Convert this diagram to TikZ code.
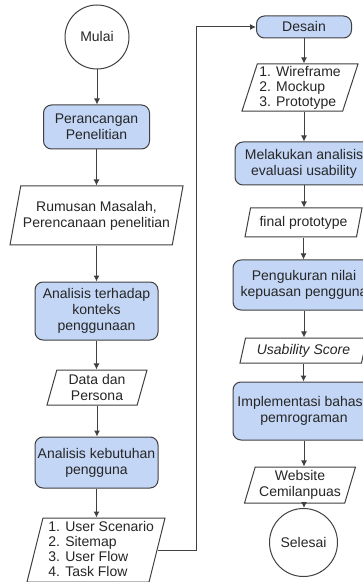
\documentclass[tikz,border=0pt]{standalone}
\usepackage{fontspec}
\setmainfont{Liberation Sans}
\usetikzlibrary{shapes.geometric,arrows.meta}
\definecolor{boxblue}{HTML}{C3D6F6}

\begin{document}
\begin{tikzpicture}[x=0.5pt,y=-0.5pt,
  font=\fontsize{7}{8}\selectfont,
  every node/.style={text=black!85},
  daftar/.style={align=left,font=\fontsize{7}{7.5}\selectfont},
  proses/.style={draw=black!75,fill=boxblue,rounded corners=4pt,align=center,inner sep=1pt,line width=0.5pt},
  data/.style={draw=black!75,fill=white,trapezium,trapezium left angle=72,trapezium right angle=108,trapezium stretches body,align=center,inner sep=1pt,line width=0.5pt},
  terminal/.style={draw=black!75,fill=white,circle,inner sep=1pt,line width=0.5pt},
  alur/.style={draw=black!75,line width=0.5pt,-{Latex[length=3pt,width=3pt]}}]
\useasboundingbox (0,0) rectangle (363,582);

% kolom kiri
\node[terminal,minimum size=32pt] (mulai) at (97,37) {Mulai};
\node[proses,minimum width=53pt,minimum height=22pt] (rancang) at (96.5,127) {Perancangan\\Penelitian};
\node[data,minimum width=86.5pt,minimum height=29.5pt] (rumusan) at (96.5,215.5) {Rumusan Masalah,\\Perencanaan penelitian};
\node[proses,minimum width=61.5pt,minimum height=29pt] (konteks) at (96.5,311) {Analisis terhadap\\konteks\\penggunaan};
\node[data,minimum width=50pt,minimum height=17.5pt] (persona) at (97,387.5) {Data dan\\Persona};
\node[proses,minimum width=61.5pt,minimum height=25.5pt] (kebutuhan) at (96.5,462.5) {Analisis kebutuhan\\pengguna};
\node[data,trapezium left angle=76,trapezium right angle=104,text height=15pt,text depth=15pt,minimum width=69pt] (skenario) at (96,550) {};
\node[daftar,anchor=north west,inner sep=0pt] (skenariotxt) at (48,521) {1. User Scenario\\2. Sitemap\\3. User Flow\\4. Task Flow};

% kolom kanan
\node[proses,minimum width=47.5pt,minimum height=11pt] (desain) at (304,27) {Desain};
\node[data,daftar,minimum width=53.5pt,minimum height=22.5pt] (wireframe) at (300,87.5) {1. Wireframe\\2. Mockup\\3. Prototype};
\node[proses,minimum width=69pt,minimum height=21.5pt] (evaluasi) at (304,163.5) {Melakukan analisis\\evaluasi usability};
\node[data,minimum width=58.5pt,minimum height=14.5pt] (final) at (303.5,222.5) {final prototype};
\node[proses,minimum width=71pt,minimum height=25pt] (ukur) at (304,285) {Pengukuran nilai\\kepuasan pengguna};
\node[data,minimum width=63.5pt,minimum height=12.5pt,font=\fontsize{7}{8}\selectfont\itshape] (skor) at (303.5,350.5) {Usability Score};
\node[proses,minimum width=71pt,minimum height=29pt] (implementasi) at (304,411) {Implementasi bahasa\\pemrograman};
\node[data,minimum width=55.5pt,minimum height=18pt] (website) at (300,485) {Website\\Cemilanpuas};
\node[terminal,minimum size=34pt] (selesai) at (303.5,542.5) {Selesai};

\draw[alur] (mulai.south) -- (mulai.south |- rancang.north);
\draw[alur] (rancang.south) -- (rancang.south |- rumusan.north);
\draw[alur] (rumusan.south) -- (rumusan.south |- konteks.north);
\draw[alur] (konteks.south) -- (konteks.south |- persona.north);
\draw[alur] (persona.south) -- (persona.south |- kebutuhan.north);
\draw[alur] (kebutuhan.south) -- (kebutuhan.south |- skenario.north);

\coordinate (belok) at (196,550);
\draw[alur] (skenario.east) -- (belok) |- (desain.west); % balik ke atas

\draw[alur] (desain.south) -- (desain.south |- wireframe.north);
\draw[alur] (desain.south |- wireframe.south) -- (desain.south |- evaluasi.north);
\draw[alur] (evaluasi.south) -- (evaluasi.south |- final.north);
\draw[alur] (final.south) -- (final.south |- ukur.north);
\draw[alur] (ukur.south) -- (ukur.south |- skor.north);
\draw[alur] (skor.south) -- (skor.south |- implementasi.north);
\draw[alur] (implementasi.south) -- (implementasi.south |- website.north);
\draw[alur] (implementasi.south |- website.south) -- (implementasi.south |- selesai.north);

\end{tikzpicture}
\end{document}
